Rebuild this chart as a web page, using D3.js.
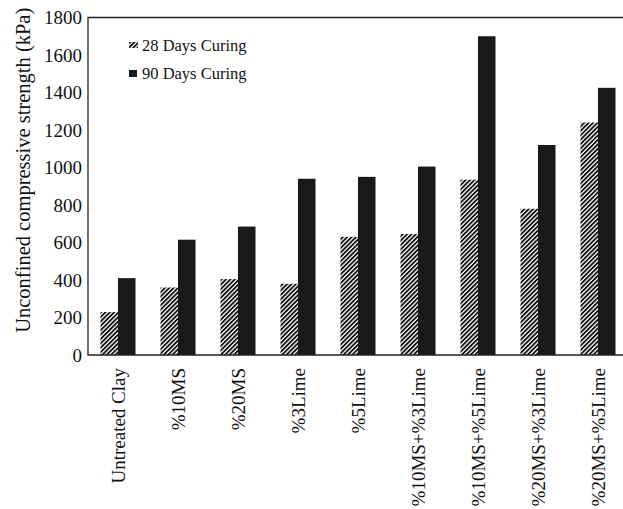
<!DOCTYPE html>
<html>
<head>
<meta charset="utf-8">
<script src="https://cdn.jsdelivr.net/npm/d3@7"></script>
<style>
  body { margin: 0; background: #fff; }
  svg { display: block; font-family: "Liberation Serif", "Times New Roman", serif; }
</style>
</head>
<body>
<div id="chart"></div>
<script>
const categories = ["Untreated Clay", "%10MS", "%20MS", "%3Lime", "%5Lime",
    "%10MS+%3Lime", "%10MS+%5Lime", "%20MS+%3Lime", "%20MS+%5Lime"];
const days28 = [229, 360, 405, 380, 630, 645, 935, 780, 1240];
const days90 = [410, 615, 685, 940, 950, 1005, 1700, 1120, 1425];
const seriesNames = ["28 Days Curing", "90 Days Curing"];
const yTicks = [0, 200, 400, 600, 800, 1000, 1200, 1400, 1600, 1800];

const width = 623, height = 509;
const plotLeft = 88, plotRight = 628, plotTop = 17.5, plotBottom = 355;
const serif = "Liberation Serif";

const svg = d3.select("#chart").append("svg")
    .attr("width", width)
    .attr("height", height);

// hatch for 28 days
const defs = svg.append("defs");
defs.append("pattern")
    .attr("id", "hatch")
    .attr("patternUnits", "userSpaceOnUse")
    .attr("width", 3.1)
    .attr("height", 3.1)
    .attr("patternTransform", "rotate(45)")
    .append("rect")
    .attr("width", 1.8)
    .attr("height", 3.1)
    .attr("fill", "#0d0d0d");

const x = d3.scaleBand().domain(categories).range([plotLeft, plotRight]);
const y = d3.scaleLinear().domain([0, 1800]).range([plotBottom, plotTop]);
const barW = 17.5;

const rows = categories.map((c, i) => ({ cat: c, v28: days28[i], v90: days90[i] }));

const groups = svg.append("g").selectAll("g")
    .data(rows)
    .enter().append("g");

groups.append("rect")
    .attr("x", d => x(d.cat) + x.bandwidth() / 2 - barW)
    .attr("y", d => y(d.v28))
    .attr("width", barW)
    .attr("height", d => plotBottom - y(d.v28))
    .attr("fill", "url(#hatch)");

groups.append("rect")
    .attr("x", d => x(d.cat) + x.bandwidth() / 2)
    .attr("y", d => y(d.v90))
    .attr("width", barW)
    .attr("height", d => plotBottom - y(d.v90))
    .attr("fill", "#191919");

// frame
svg.append("path")
    .attr("d", `M${width},${plotTop}H${plotLeft}V${plotBottom}H${width}`)
    .attr("fill", "none")
    .attr("stroke", "#222")
    .attr("stroke-width", 1.3);

// y axis
const yAxis = svg.append("g")
    .attr("transform", `translate(${plotLeft},0)`)
    .call(d3.axisLeft(y).tickValues(yTicks).tickFormat(d3.format("d")).tickSize(0).tickPadding(6));
yAxis.attr("font-family", serif).attr("font-size", 19);
yAxis.select(".domain").remove();
yAxis.selectAll("text").attr("fill", "#111");

// x labels
const xAxis = svg.append("g")
    .attr("transform", `translate(0,${plotBottom})`)
    .call(d3.axisBottom(x).tickSize(0));
xAxis.attr("font-family", serif).attr("font-size", 19);
xAxis.select(".domain").remove();
xAxis.selectAll("text")
    .attr("fill", "#111")
    .attr("text-anchor", "end")
    .attr("transform", "rotate(-90)")
    .attr("x", -13)
    .attr("y", 0)
    .attr("dy", "0.35em");

// y title
svg.append("text")
    .attr("transform", `translate(30,${(plotTop + plotBottom) / 2 - 16}) rotate(-90)`)
    .attr("text-anchor", "middle")
    .attr("font-family", serif)
    .attr("font-size", 20.5)
    .attr("fill", "#111")
    .text("Unconfined compressive strength (kPa)");

// legend
const legend = svg.append("g").attr("font-family", serif);
const legY = [51, 79];
legend.append("rect")
    .attr("x", 129).attr("y", legY[0] - 9)
    .attr("width", 9).attr("height", 6)
    .attr("fill", "url(#hatch)");
legend.append("rect")
    .attr("x", 129).attr("y", legY[1] - 9)
    .attr("width", 8).attr("height", 7)
    .attr("fill", "#191919");
legend.selectAll("text")
    .data(seriesNames)
    .enter().append("text")
    .attr("x", 142)
    .attr("y", (d, i) => legY[i])
    .attr("font-size", 16.5)
    .attr("fill", "#111")
    .text(d => d);
</script>
</body>
</html>
